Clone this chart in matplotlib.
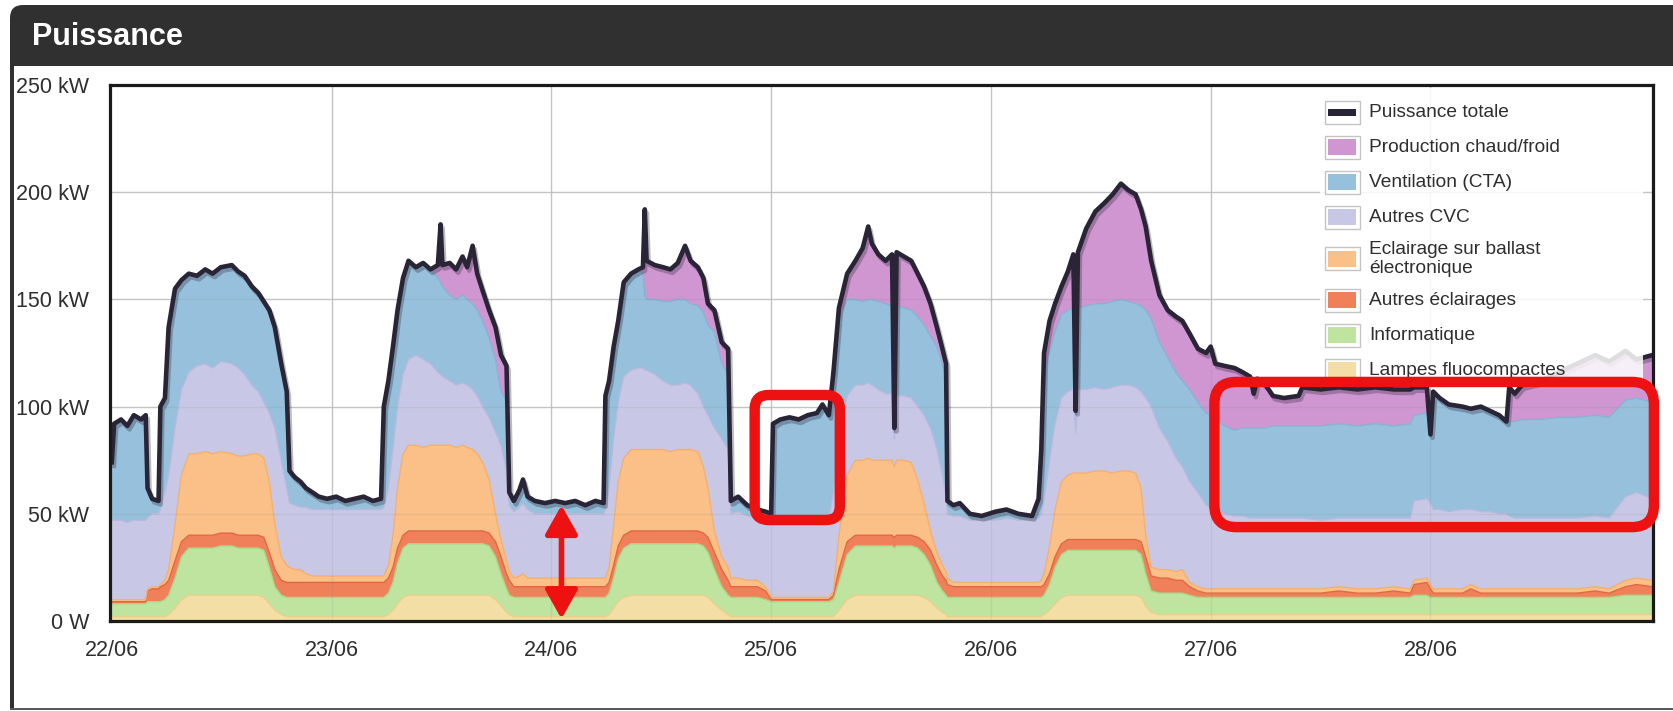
import numpy as np
import matplotlib
matplotlib.use("Agg")
import matplotlib.pyplot as plt
import matplotlib.patches as patches
import matplotlib.patheffects as pe
from matplotlib.lines import Line2D
from matplotlib.legend_handler import HandlerBase
from matplotlib.transforms import IdentityTransform

plt.rcParams['font.family'] = ['Liberation Sans', 'DejaVu Sans']

# time axis: hours since 22/06 00:00
hours = [
    0.0, 0.25, 1.0, 1.7, 2.4, 3.2, 3.7, 3.9, 4.4, 5.1,
    5.3, 5.8, 6.2, 6.9, 7.6, 8.4, 9.3, 10.2, 11.0, 11.9,
    13.1, 13.8, 14.5, 15.3, 16.0, 16.6, 17.2, 17.8, 18.5, 19.1,
    19.4, 20.0, 20.6, 21.2, 21.9, 22.6, 23.5, 24.5, 25.5, 26.5,
    27.5, 28.5, 29.4, 29.7, 30.2, 30.7, 31.2, 31.8, 32.4, 33.2,
    34.0, 34.8, 35.6, 35.9, 36.1, 36.9, 37.6, 38.3, 38.8, 39.4,
    39.9, 40.5, 41.2, 41.9, 42.5, 43.1, 43.4, 43.9, 44.5, 44.9,
    45.4, 46.2, 47.3, 48.4, 49.5, 50.6, 51.7, 52.8, 53.7, 53.9,
    54.3, 54.8, 55.3, 55.9, 56.7, 57.5, 58.0, 58.2, 58.4, 59.3,
    60.2, 61.0, 61.8, 62.6, 63.2, 64.0, 64.6, 65.1, 65.8, 66.6,
    67.3, 67.6, 68.4, 69.4, 70.5, 71.4, 72.0, 72.2, 73.0, 74.0,
    75.0, 76.0, 77.0, 77.6, 78.3, 78.8, 79.4, 80.3, 81.2, 82.0,
    82.6, 83.0, 83.7, 84.5, 85.2, 85.45, 85.7, 86.5, 87.3, 88.0,
    88.7, 89.4, 90.1, 90.7, 91.1, 91.25, 91.9, 92.6, 93.7, 95.0,
    96.5, 97.7, 99.0, 100.5, 101.2, 101.5, 101.8, 102.4, 103.0, 103.7,
    104.4, 105.0, 105.25, 105.5, 106.4, 107.4, 108.4, 109.3, 110.2, 111.0,
    111.8, 112.4, 112.9, 113.5, 114.4, 115.3, 116.2, 116.9, 117.7, 118.6,
    119.5, 120.0, 120.5, 121.5, 122.6, 123.5, 124.3, 124.7, 125.1, 126.0,
    126.8, 128.0, 129.6, 130.0, 132.0, 134.0, 136.0, 138.0, 140.0, 141.8,
    142.2, 143.6, 144.0, 144.3, 145.0, 146.0, 147.5, 148.4, 149.5, 150.5,
    151.5, 152.3, 152.6, 153.2, 154.0, 156.0, 158.0, 160.0, 162.0, 163.5,
    165.3, 166.5, 168.2,
]

# kW per usage (stack order, bottom to top)
lampes = [
    2, 2, 2, 2, 2, 2, 2, 2, 2, 2,
    2, 2, 3, 6, 10, 12, 12, 12, 12, 12,
    12, 12, 12, 12, 12, 11, 8, 5, 3, 2,
    2, 2, 2, 2, 2, 2, 2, 2, 2, 2,
    2, 2, 2, 2, 3, 5, 8, 11, 12, 12,
    12, 12, 12, 12, 12, 12, 12, 12, 12, 12,
    12, 12, 12, 10, 7, 4, 3, 2, 2, 2,
    2, 2, 2, 2, 2, 2, 2, 2, 2, 2,
    3, 6, 9, 11, 12, 12, 12, 12, 12, 12,
    12, 12, 12, 12, 12, 12, 12, 11, 8, 5,
    3, 2, 2, 2, 2, 2, 2, 2, 2, 2,
    2, 2, 2, 2, 2, 2, 5, 10, 12, 12,
    12, 12, 12, 12, 12, 12, 12, 12, 12, 12,
    11, 9, 6, 4, 3, 2, 2, 2, 2, 2,
    2, 2, 2, 2, 2, 2, 3, 5, 8, 11,
    12, 12, 12, 12, 12, 12, 12, 12, 12, 12,
    12, 11, 7, 4, 3, 3, 3, 3, 3, 3,
    3, 3, 3, 3, 3, 3, 3, 3, 3, 3,
    3, 3, 3, 3, 3, 3, 3, 3, 3, 3,
    3, 3, 3, 3, 3, 3, 3, 3, 3, 3,
    3, 3, 3, 3, 3, 3, 3, 3, 3, 3,
    3, 3, 3,
]
informatique = [
    6, 6, 6, 6, 6, 6, 6, 7, 7, 7,
    7, 8, 9, 14, 20, 22, 22, 22, 22, 23,
    23, 22, 22, 22, 22, 22, 17, 11, 9, 9,
    9, 9, 9, 9, 9, 9, 9, 9, 9, 9,
    9, 9, 9, 9, 10, 13, 19, 23, 24, 24,
    24, 24, 24, 24, 24, 24, 24, 24, 24, 24,
    24, 24, 23, 20, 15, 11, 9, 9, 9, 9,
    9, 9, 9, 9, 9, 9, 9, 9, 9, 9,
    10, 14, 20, 23, 24, 24, 24, 24, 24, 24,
    24, 24, 24, 24, 24, 24, 23, 21, 16, 11,
    9, 9, 9, 9, 9, 8, 7, 7, 7, 7,
    7, 7, 7, 7, 7, 8, 13, 21, 23, 23,
    23, 23, 23, 23, 23, 22, 23, 23, 23, 22,
    20, 17, 12, 10, 9, 9, 9, 9, 9, 9,
    9, 9, 9, 9, 9, 9, 9, 12, 17, 20,
    21, 21, 21, 21, 21, 21, 21, 21, 21, 21,
    21, 20, 15, 10, 10, 10, 10, 10, 9, 8,
    8, 8, 8, 8, 8, 8, 8, 8, 8, 8,
    8, 8, 8, 8, 8, 8, 8, 8, 8, 8,
    9, 9, 8, 8, 8, 8, 8, 8, 8, 8,
    8, 8, 8, 8, 8, 8, 8, 8, 8, 8,
    9, 9, 9,
]
autres_eclairages = [
    1, 1, 1, 1, 1, 1, 1, 5, 6, 6,
    7, 7, 7, 8, 7, 6, 6, 6, 6, 6,
    6, 6, 6, 6, 6, 6, 7, 8, 7, 7,
    7, 7, 7, 7, 7, 7, 7, 7, 7, 7,
    7, 7, 7, 7, 7, 7, 7, 6, 6, 6,
    6, 6, 6, 6, 6, 6, 6, 6, 6, 6,
    6, 6, 6, 7, 8, 7, 7, 5, 5, 5,
    5, 5, 5, 5, 5, 5, 5, 5, 5, 5,
    5, 6, 6, 6, 6, 6, 6, 6, 6, 6,
    6, 6, 6, 6, 6, 6, 6, 7, 8, 8,
    7, 5, 5, 5, 5, 4, 1, 1, 1, 1,
    1, 1, 1, 1, 1, 2, 6, 6, 5, 5,
    5, 5, 5, 5, 5, 5, 5, 5, 5, 5,
    6, 7, 8, 7, 7, 6, 5, 5, 5, 5,
    5, 5, 5, 5, 5, 5, 5, 5, 5, 5,
    5, 5, 5, 5, 5, 5, 5, 5, 5, 5,
    5, 6, 8, 7, 7, 7, 6, 6, 4, 3,
    2, 2, 2, 2, 2, 2, 2, 2, 2, 2,
    2, 2, 2, 2, 2, 3, 2, 2, 3, 2,
    5, 6, 4, 2, 2, 2, 2, 4, 2, 2,
    2, 2, 2, 2, 2, 2, 2, 2, 3, 2,
    4, 5, 4,
]
eclairage_ballast = [
    1, 1, 1, 1, 1, 1, 1, 1, 1, 1,
    1, 2, 5, 17, 31, 38, 38, 39, 38, 38,
    37, 37, 37, 38, 38, 37, 33, 21, 11, 8,
    7, 6, 6, 4, 3, 3, 3, 3, 3, 3,
    3, 3, 3, 3, 6, 15, 28, 38, 40, 40,
    39, 40, 40, 40, 40, 40, 39, 40, 39, 38,
    36, 32, 25, 13, 8, 6, 4, 4, 5, 6,
    4, 4, 4, 4, 4, 4, 4, 4, 4, 4,
    7, 19, 30, 36, 38, 38, 38, 38, 38, 38,
    38, 37, 38, 38, 38, 37, 31, 23, 10, 6,
    6, 4, 4, 3, 3, 2, 1, 1, 1, 1,
    1, 1, 1, 1, 1, 2, 16, 31, 35, 35,
    36, 35, 35, 35, 35, 33, 35, 35, 34, 27,
    18, 9, 6, 5, 4, 3, 2, 2, 2, 2,
    2, 2, 2, 2, 2, 3, 5, 13, 22, 29,
    30, 31, 31, 31, 31, 32, 32, 31, 32, 32,
    31, 25, 10, 4, 4, 4, 4, 5, 2, 2,
    2, 2, 2, 2, 2, 2, 2, 2, 2, 2,
    2, 2, 2, 2, 2, 2, 2, 2, 2, 2,
    2, 2, 2, 2, 2, 2, 2, 2, 2, 2,
    2, 2, 2, 2, 2, 2, 2, 2, 2, 2,
    3, 3, 3,
]
autres_cvc = [
    37, 37, 37, 36, 37, 37, 37, 33, 34, 34,
    35, 41, 44, 45, 40, 38, 41, 41, 40, 42,
    42, 41, 38, 32, 29, 26, 32, 45, 45, 36,
    30, 30, 29, 31, 31, 31, 31, 31, 31, 31,
    31, 31, 31, 32, 36, 40, 38, 37, 40, 42,
    41, 38, 34, 33, 32, 30, 29, 29, 29, 28,
    27, 26, 29, 38, 44, 42, 31, 31, 32, 33,
    32, 30, 30, 30, 30, 30, 30, 30, 30, 32,
    37, 40, 37, 38, 37, 38, 38, 37, 37, 35,
    32, 31, 30, 31, 30, 27, 28, 34, 48, 55,
    55, 30, 31, 30, 29, 31, 36, 36, 36, 36,
    37, 37, 37, 37, 37, 46, 45, 37, 35, 35,
    35, 35, 33, 31, 31, 13, 30, 30, 30, 34,
    41, 48, 48, 42, 35, 30, 31, 31, 29, 29,
    29, 30, 29, 29, 30, 31, 34, 40, 40, 39,
    39, 39, 19, 39, 39, 39, 38, 40, 40, 40,
    40, 45, 64, 75, 66, 60, 53, 48, 47, 44,
    39, 38, 37, 35, 34, 34, 33, 33, 33, 33,
    33, 33, 33, 33, 32, 32, 33, 33, 32, 33,
    37, 37, 38, 37, 37, 36, 37, 35, 36, 36,
    35, 35, 34, 33, 33, 33, 33, 33, 33, 33,
    39, 40, 38,
]
ventilation = [
    27, 45, 47, 45, 49, 47, 49, 14, 7, 6,
    48, 44, 69, 65, 51, 46, 42, 44, 44, 44,
    46, 45, 46, 46, 46, 47, 48, 47, 45, 45,
    15, 13, 12, 9, 8, 6, 5, 6, 4, 5,
    6, 4, 5, 47, 50, 48, 45, 45, 46, 41,
    45, 44, 44, 43, 42, 40, 40, 41, 40, 40,
    40, 40, 37, 34, 25, 33, 6, 5, 8, 11,
    6, 6, 5, 6, 5, 6, 4, 6, 5, 53,
    50, 43, 38, 44, 45, 46, 44, 35, 33, 35,
    37, 39, 40, 39, 38, 41, 44, 42, 45, 35,
    35, 6, 7, 5, 4, 4, 3, 45, 47, 48,
    46, 48, 49, 53, 48, 56, 55, 45, 40, 39,
    39, 40, 41, 42, 41, 3, 42, 41, 41, 42,
    42, 43, 48, 52, 54, 6, 5, 6, 3, 2,
    4, 4, 3, 2, 9, 30, 59, 50, 43, 39,
    38, 38, 8, 38, 39, 39, 40, 40, 40, 39,
    39, 40, 41, 41, 40, 39, 40, 40, 43, 42,
    43, 43, 42, 41, 40, 41, 42, 42, 42, 42,
    43, 43, 43, 43, 44, 44, 43, 44, 43, 44,
    40, 40, 32, 54, 51, 49, 48, 47, 49, 47,
    46, 43, 44, 45, 46, 46, 47, 47, 47, 47,
    45, 44, 45,
]
production = [
    0, 0, 0, 0, 0, 0, 0, 0, 0, 0,
    0, 0, 0, 0, 0, 0, 0, 0, 0, 0,
    0, 0, 0, 0, 0, 0, 0, 0, 0, 0,
    0, 0, 0, 0, 0, 0, 0, 0, 0, 0,
    0, 0, 0, 0, 0, 0, 0, 0, 0, 0,
    0, 0, 6, 27, 10, 15, 14, 18, 15, 27,
    17, 14, 13, 15, 17, 16, 0, 0, 0, 0,
    0, 0, 0, 0, 0, 0, 0, 0, 0, 0,
    0, 0, 0, 0, 0, 0, 3, 40, 18, 16,
    16, 15, 17, 25, 20, 18, 16, 10, 10, 10,
    12, 0, 0, 0, 0, 0, 0, 0, 0, 0,
    0, 0, 0, 0, 0, 0, 6, 12, 18, 25,
    34, 26, 22, 20, 24, 2, 25, 24, 23, 20,
    18, 15, 9, 7, 8, 0, 0, 0, 0, 0,
    0, 0, 0, 0, 0, 0, 10, 15, 13, 13,
    18, 25, 2, 26, 36, 43, 47, 50, 54, 52,
    51, 45, 39, 27, 22, 22, 26, 28, 26, 25,
    28, 32, 26, 28, 29, 26, 24, 16, 23, 20,
    14, 13, 14, 18, 17, 17, 17, 17, 17, 16,
    13, 12, 0, 1, 1, 1, 0, 0, 0, 0,
    0, 0, 16, 13, 16, 18, 21, 25, 28, 26,
    23, 18, 22,
]

day_ticks = [0, 24, 48, 72, 96, 120, 144]
day_labels = ['22/06', '23/06', '24/06', '25/06', '26/06', '27/06', '28/06']
kw_ticks = [0, 50, 100, 150, 200, 250]
kw_labels = ['0 W', '50 kW', '100 kW', '150 kW', '200 kW', '250 kW']

layers = [lampes, informatique, autres_eclairages, eclairage_ballast,
          autres_cvc, ventilation, production]
layer_names = ['Lampes fluocompactes', 'Informatique', 'Autres éclairages',
               'Eclairage sur ballast\nélectronique', 'Autres CVC',
               'Ventilation (CTA)', 'Production chaud/froid']
fill_colors = ['#f3dea5', '#bee4a0', '#f0805a', '#fac087',
               '#c8c8e6', '#96c0dc', '#d096d2']
edge_colors = ['#ead08a', '#a9d888', '#e2683e', '#f3b06e',
               '#b9b9dd', '#86b3d3', '#c585c8']
total_color = '#2a2536'
red = '#ee1111'

W, H = 1673, 711
fig = plt.figure(figsize=(W / 100, H / 100), dpi=100)
fig.patch.set_facecolor('white')

# panel chrome (pixel coordinates)
px = IdentityTransform()
fig.add_artist(patches.FancyBboxPatch((10, H - 66), 1720, 61,
               boxstyle='round,pad=0,rounding_size=13',
               facecolor='#303030', edgecolor='none', transform=px))
fig.add_artist(patches.Rectangle((10, H - 66), 1720, 30, facecolor='#303030',
                                 edgecolor='none', transform=px))
fig.add_artist(patches.Rectangle((10, 2), 4, H - 66, facecolor='#303030',
                                 edgecolor='none', transform=px))
fig.add_artist(patches.Rectangle((10, 1), W, 2, facecolor='#5a5a5a',
                                 edgecolor='none', transform=px))
fig.text(32 / W, 1 - 37 / H, 'Puissance', color='white', fontsize=22,
         fontweight='bold', va='center', ha='left')

ax = fig.add_axes([110 / W, 1 - 621 / H, 1543 / W, 536 / H])
ax.set_facecolor('white')

# grid under the data, plus a faint copy on top of the fills
for d in day_ticks[1:]:
    ax.axvline(d, color='#cfcfcf', lw=1, zorder=0.5)
    ax.axvline(d, color='#777777', lw=1, alpha=0.12, zorder=1.5)
for k in kw_ticks[1:-1]:
    ax.axhline(k, color='#cfcfcf', lw=1, zorder=0.5)
    ax.axhline(k, color='#777777', lw=1, alpha=0.12, zorder=1.5)

ax.stackplot(hours, *layers, colors=fill_colors, linewidth=0, zorder=1)
tops = np.cumsum(np.array(layers, dtype=float), axis=0)
for top, ec in zip(tops[:-1], edge_colors[:-1]):
    ax.plot(hours, top, color=ec, lw=1.0, zorder=1.2)

total = tops[-1]
ax.plot(hours, total, color=total_color, lw=3.3, zorder=3,
        solid_joinstyle='round',
        path_effects=[pe.SimpleLineShadow(offset=(1.5, -2.5),
                                          shadow_color=total_color, alpha=0.3),
                      pe.Normal()])

ax.set_xticks(day_ticks, day_labels)
ax.set_yticks(kw_ticks, kw_labels)
ax.tick_params(length=0, labelsize=15.5, labelcolor='#2e2e2e')
ax.tick_params(axis='y', pad=15)
ax.tick_params(axis='x', pad=14)
for s in ax.spines.values():
    s.set_linewidth(2.3)
    s.set_color('#1a1a1a')
    s.set_zorder(7)

# legend background (semi transparent, like the original)
ax.add_patch(patches.Rectangle(((1320 - 110) / 1543, (621 - 379) / 536),
                               (1643 - 1320) / 1543, (379 - 88) / 536,
                               transform=ax.transAxes, facecolor='white',
                               alpha=0.85, edgecolor='none', zorder=4))


class SwatchHandler(HandlerBase):
    def create_artists(self, legend, orig_handle, xdescent, ydescent,
                       width, height, fontsize, trans):
        x0, y0 = -xdescent, -ydescent
        outer = patches.Rectangle((x0, y0), width, height, facecolor='white',
                                  edgecolor='#c4c4c4', lw=1.0, transform=trans)
        pad = 2.5
        if isinstance(orig_handle, Line2D):
            inner = patches.Rectangle((x0 + pad, y0 + height / 2 - 2.4),
                                      width - 2 * pad, 4.8,
                                      facecolor=orig_handle.get_color(),
                                      edgecolor='none', transform=trans)
        else:
            inner = patches.Rectangle((x0 + pad, y0 + pad), width - 2 * pad,
                                      height - 2 * pad,
                                      facecolor=orig_handle.get_facecolor(),
                                      edgecolor='none', transform=trans)
        return [outer, inner]


handles = [Line2D([], [], color=total_color)]
labels = ['Puissance totale']
for name, col in list(zip(layer_names, fill_colors))[::-1]:
    handles.append(patches.Patch(facecolor=col))
    labels.append(name)

leg = ax.legend(handles, labels,
                handler_map={Line2D: SwatchHandler(), patches.Patch: SwatchHandler()},
                loc='upper left', bbox_to_anchor=(1325 / W, 1 - 101 / H),
                bbox_transform=fig.transFigure, frameon=False, fontsize=13.8,
                handlelength=1.8, handleheight=1.47, handletextpad=0.5,
                labelspacing=0.62, borderpad=0, borderaxespad=0)
leg.set_zorder(5)
for t in leg.get_texts():
    t.set_color('#2e2e2e')
    t.set_linespacing(1.18)
try:
    for col in leg._legend_handle_box.get_children():
        for row in col.get_children():
            row.align = 'center'
except AttributeError:
    pass

# red annotations
px_per_h = 1543 / 168.5
px_per_kw = 536 / 250


def red_box(x0, x1, y0, y1, radius_px):
    r = radius_px / px_per_h
    ax.add_patch(patches.FancyBboxPatch(
        (x0, y0), x1 - x0, y1 - y0,
        boxstyle=f'round,pad=0,rounding_size={r}',
        mutation_aspect=px_per_h / px_per_kw,
        facecolor='none', edgecolor=red, lw=7.5, zorder=9, clip_on=False))


red_box(70.2, 79.5, 47.1, 105.4, 14)
red_box(120.4, 168.4, 43.8, 111.5, 22)
ax.annotate('', xy=(49.1, 1), xytext=(49.1, 54),
            arrowprops=dict(arrowstyle='<|-|>,head_length=0.8,head_width=0.45',
                            color=red, lw=4, shrinkA=0, shrinkB=0,
                            mutation_scale=22),
            zorder=8)

ax.set_xlim(-0.2, 168.3)
ax.set_ylim(0, 250)

fig.savefig('out.png', dpi=100)
